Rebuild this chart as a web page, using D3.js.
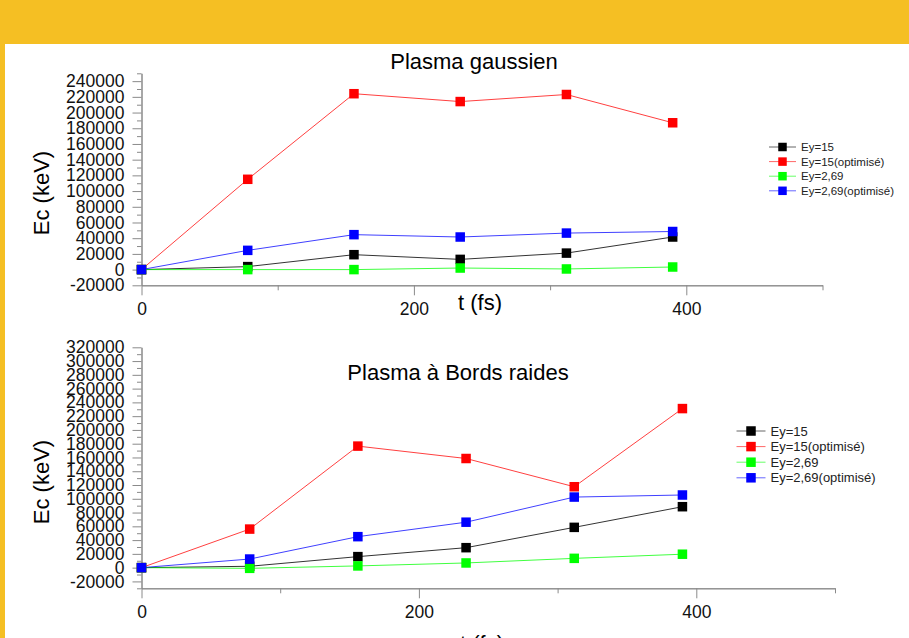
<!DOCTYPE html>
<html>
<head>
<meta charset="utf-8">
<script src="https://cdn.jsdelivr.net/npm/d3@7"></script>
<style>
  body { margin: 0; background: #f5bf23; }
  svg { display: block; font-family: "Liberation Sans", Arial, sans-serif; }
  .axis path, .axis line { stroke: #8a8a8a; }
  .axis text { fill: #111; font-size: 17.5px; font-family: "Liberation Sans", Arial, sans-serif; }
</style>
</head>
<body>
<svg width="909" height="638"></svg>
<script>
// data
var times = [0, 78, 156, 234, 312, 390];
var seriesNames = ["Ey=15", "Ey=15(optimisé)", "Ey=2,69", "Ey=2,69(optimisé)"];
var seriesColors = ["#000000", "#ff0000", "#00ff00", "#0000ff"];

// Plasma gaussien
var gaussEy15 = [0, 3800, 19000, 13000, 21000, 41500];
var gaussEy15Opt = [0, 115000, 224000, 214000, 223000, 187000];
var gaussEy269 = [0, 0, 0, 2000, 800, 3300];
var gaussEy269Opt = [0, 24500, 44500, 41500, 46500, 48500];

// Plasma à Bords raides
var raidEy15 = [0, 2000, 16000, 29000, 58500, 88500];
var raidEy15Opt = [0, 56000, 176500, 158500, 117500, 231000];
var raidEy269 = [0, -1000, 2500, 6800, 13500, 19500];
var raidEy269Opt = [0, 12500, 45000, 66000, 102500, 105500];

// ticks
var xTicks = [0, 200, 400];
var xMinorTicks = [100, 300, 500];
var gaussYTicks = d3.range(-20000, 240001, 20000);
var gaussYMinor = d3.range(-10000, 250001, 20000);
var raidYTicks = d3.range(-20000, 320001, 20000);
var raidYMinor = d3.range(-30000, 310001, 20000);

var svg = d3.select("svg");

// white panel on yellow
svg.append("rect")
    .attr("x", 5).attr("y", 44)
    .attr("width", 904).attr("height", 594)
    .attr("fill", "#ffffff");

function drawChart(o) {
  var x = d3.scaleLinear().domain([0, 500]).range([o.left, o.right]);
  var y = d3.scaleLinear().domain(o.yDomain).range([o.bottom, o.top]);

  // y axis, minor then major
  svg.append("g").attr("class", "axis")
      .attr("transform", "translate(" + o.left + ",0)")
      .call(d3.axisLeft(y).tickValues(o.yMinor).tickSize(4.5).tickSizeOuter(0).tickFormat(""));
  svg.append("g").attr("class", "axis")
      .attr("transform", "translate(" + o.left + ",0)")
      .call(d3.axisLeft(y).tickValues(o.yTicks).tickSize(9).tickSizeOuter(0).tickPadding(8)
          .tickFormat(function(d) { return String(d); }));

  // x axis
  svg.append("g").attr("class", "axis")
      .attr("transform", "translate(0," + o.bottom + ")")
      .call(d3.axisBottom(x).tickValues(xMinorTicks).tickSize(5).tickSizeOuter(0).tickFormat(""));
  svg.append("g").attr("class", "axis")
      .attr("transform", "translate(0," + o.bottom + ")")
      .call(d3.axisBottom(x).tickValues(xTicks).tickSize(10).tickSizeOuter(0).tickPadding(7));

  // lines + markers
  var line = d3.line()
      .x(function(d, i) { return x(times[i]); })
      .y(function(d) { return y(d); });

  o.series.forEach(function(s, k) {
    svg.append("path")
        .datum(s)
        .attr("d", line)
        .attr("fill", "none")
        .attr("stroke", seriesColors[k])
        .attr("stroke-opacity", k == 0 ? 0.8 : 0.75)
        .attr("stroke-width", 1);
    svg.append("g").selectAll("rect")
        .data(s)
        .enter().append("rect")
        .attr("x", function(d, i) { return x(times[i]) - 4.75; })
        .attr("y", function(d) { return y(d) - 4.75; })
        .attr("width", 9.5).attr("height", 9.5)
        .attr("fill", seriesColors[k]);
  });

  // title and axis labels
  svg.append("text")
      .attr("x", o.titleX).attr("y", o.titleY)
      .attr("text-anchor", "middle")
      .style("font-size", "22px")
      .text(o.title);
  svg.append("text")
      .attr("transform", "translate(49," + o.yLabelY + ") rotate(-90)")
      .attr("text-anchor", "middle")
      .style("font-size", "22px")
      .text("Ec (keV)");
  svg.append("text")
      .attr("x", o.xLabelX).attr("y", o.xLabelY)
      .attr("text-anchor", "middle")
      .style("font-size", "22px")
      .text("t (fs)");

  // legend
  var lg = svg.append("g").attr("transform", "translate(" + o.legX + "," + o.legY + ")");
  seriesNames.forEach(function(name, k) {
    var row = lg.append("g").attr("transform", "translate(0," + k * o.legStep + ")");
    row.append("line")
        .attr("x1", 0).attr("x2", o.legLine)
        .attr("y1", 0).attr("y2", 0)
        .attr("stroke", seriesColors[k])
        .attr("stroke-opacity", 0.6);
    row.append("rect")
        .attr("x", o.legLine / 2 - o.legMark / 2).attr("y", -o.legMark / 2)
        .attr("width", o.legMark).attr("height", o.legMark)
        .attr("fill", seriesColors[k]);
    row.append("text")
        .attr("x", o.legLine + 5).attr("y", 0)
        .attr("dy", "0.35em")
        .style("font-size", o.legFont + "px")
        .attr("fill", "#222")
        .text(name);
  });
}

drawChart({
  left: 141.5, right: 822.5, top: 73.3, bottom: 285.3,
  yDomain: [-20000, 250000], yTicks: gaussYTicks, yMinor: gaussYMinor,
  series: [gaussEy15, gaussEy15Opt, gaussEy269, gaussEy269Opt],
  title: "Plasma gaussien", titleX: 474, titleY: 69,
  yLabelY: 193, xLabelX: 480, xLabelY: 310,
  legX: 769, legY: 147, legStep: 14.6, legLine: 27, legMark: 8.5, legFont: 11.5
});

drawChart({
  left: 141.5, right: 835, top: 347.3, bottom: 588.3,
  yDomain: [-30000, 320000], yTicks: raidYTicks, yMinor: raidYMinor,
  series: [raidEy15, raidEy15Opt, raidEy269, raidEy269Opt],
  title: "Plasma à Bords raides", titleX: 458, titleY: 380,
  yLabelY: 482, xLabelX: 482, xLabelY: 651,
  legX: 736.5, legY: 431, legStep: 15.6, legLine: 29, legMark: 9.5, legFont: 13
});
</script>
</body>
</html>
